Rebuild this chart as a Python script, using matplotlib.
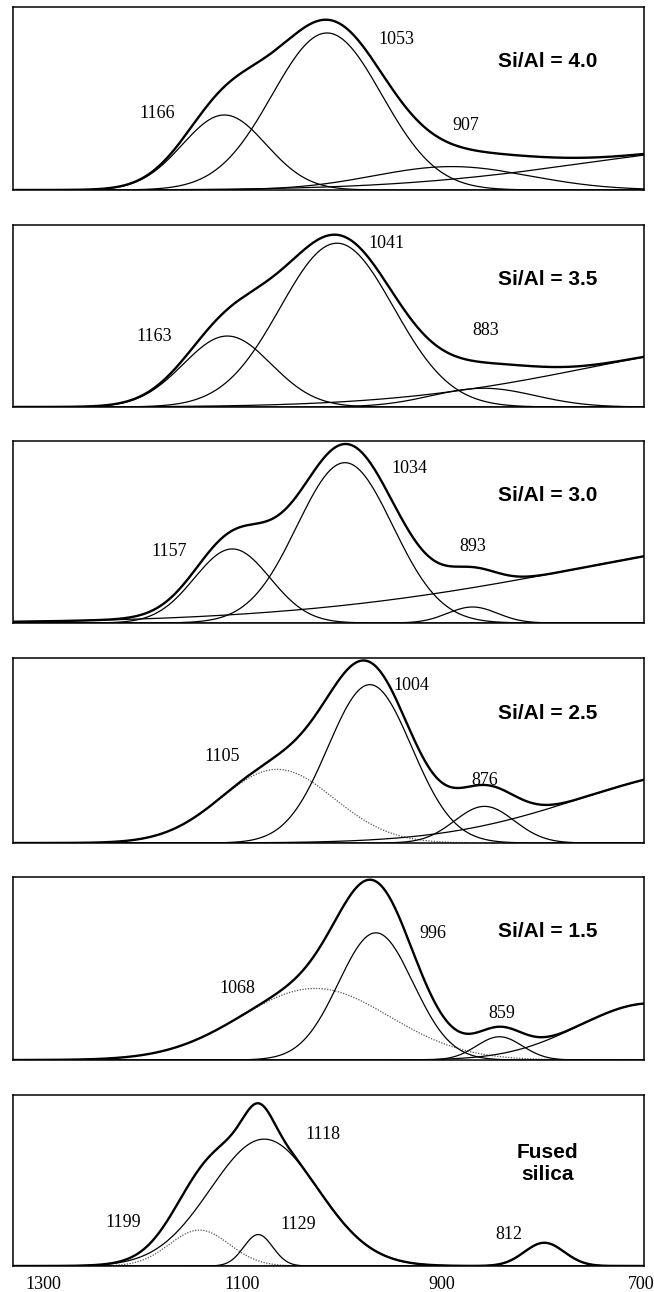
import numpy as np
import matplotlib
matplotlib.use("Agg")
import matplotlib.pyplot as plt

# one entry per panel, top to bottom
panel_names = ["Si/Al = 4.0", "Si/Al = 3.5", "Si/Al = 3.0", "Si/Al = 2.5", "Si/Al = 1.5", "Fused\nsilica"]

# fitted bands: centre (cm-1), height (normalised), sigma (cm-1)
band_centre = [
    [1118, 1015, 890, 550],
    [1115, 1005, 858, 550],
    [1110, 997, 869, 450],
    [1065, 972, 857, 620],
    [1027, 966, 842, 690],
    [1143, 1078, 1084, 797],
]
band_height = [
    [0.41, 0.858, 0.128, 0.25],
    [0.39, 0.90, 0.103, 0.36],
    [0.407, 0.881, 0.088, 0.515],
    [0.398, 0.856, 0.198, 0.398],
    [0.391, 0.695, 0.127, 0.31],
    [0.21, 0.742, 0.184, 0.136],
]
band_sigma = [
    [42, 55, 78, 200],
    [44, 57, 52, 200],
    [38, 48, 25, 300],
    [57, 42, 30, 140],
    [75, 37.5, 23, 72],
    [30, 54, 14.5, 20],
]

# peak labels written on each panel and where they sit (cm-1, height)
peak_labels = [
    ["1166", "1053", "907"],
    ["1163", "1041", "883"],
    ["1157", "1034", "893"],
    ["1105", "1004", "876"],
    ["1068", "996", "859"],
    ["1199", "1118", "1129", "812"],
]
label_pos = [
    [(1185, 0.42), (945, 0.82), (876, 0.35)],
    [(1188, 0.385), (955, 0.90), (856, 0.42)],
    [(1173, 0.395), (932, 0.85), (869, 0.42)],
    [(1120, 0.47), (930, 0.85), (857, 0.34)],
    [(1105, 0.39), (909, 0.69), (840, 0.255)],
    [(1219, 0.255), (1019, 0.77), (1044, 0.245), (833, 0.185)],
]
dotted_band = [None, None, None, 0, 0, 0]

xticks = [1300, 1100, 900, 700]

# panel boxes in pixels (top, bottom)
boxes = [(7, 190), (225, 407), (441, 623), (658, 843), (877, 1060), (1095, 1266)]

W, H = 654, 1292
fig = plt.figure(figsize=(W / 100, H / 100), dpi=100)
x = np.linspace(697, 1330, 900)

for i in range(6):
    top, bot = boxes[i]
    ax = fig.add_axes([13 / W, 1 - bot / H, 631 / W, (bot - top) / H])
    total = np.zeros_like(x)
    for j in range(len(band_centre[i])):
        c, h, s = band_centre[i][j], band_height[i][j], band_sigma[i][j]
        y = h * np.exp(-(x - c) ** 2 / (2 * s ** 2))
        total += y
        if dotted_band[i] == j:
            ax.plot(x, y, color="#555555", lw=0.9, ls=(0, (1, 1.2)))
        else:
            ax.plot(x, y, color="black", lw=0.9)
    ax.plot(x, total, color="black", lw=1.7)

    for lab, (px, py) in zip(peak_labels[i], label_pos[i]):
        ax.text(px, py, lab, ha="center", va="center", fontsize=13,
                family="Liberation Serif")
    ax.text(794, 0.70 if i < 5 else 0.60, panel_names[i], ha="center", va="center",
            fontsize=15, fontweight="bold", family="Liberation Sans",
            linespacing=1.2)

    ax.set_xlim(1330, 697)
    ax.set_ylim(0, 1)
    ax.set_yticks([])
    for sp in ax.spines.values():
        sp.set_linewidth(1.1)
    if i == 5:
        ax.set_xticks(xticks)
        ax.set_xticklabels([str(t) for t in xticks], family="Liberation Serif", fontsize=13)
        ax.tick_params(axis="x", length=0, pad=7)
    else:
        ax.set_xticks([])

fig.savefig("out.png", dpi=100)
